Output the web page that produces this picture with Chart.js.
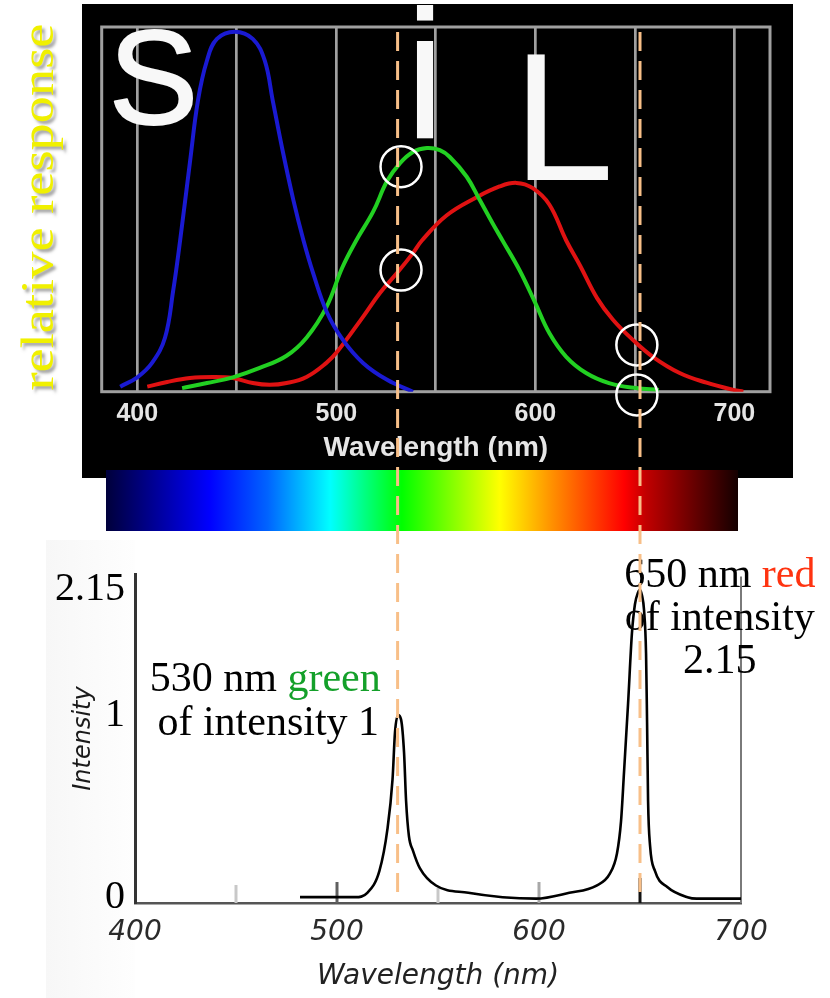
<!DOCTYPE html>
<html><head><meta charset="utf-8">
<script src="https://cdn.jsdelivr.net/npm/chart.js@4.4.1/dist/chart.umd.min.js"></script>
<style>
html,body{margin:0;padding:0;background:#fff;}
#wrap{position:relative;width:830px;height:998px;overflow:hidden;background:#fff;}
canvas{position:absolute;left:0;}
#top{top:0;width:830px;height:540px;}
#bot{top:540px;width:830px;height:458px;}
#ov{top:0;width:830px;height:998px;pointer-events:none;}
</style></head><body>
<div id="wrap">
<canvas id="top" width="830" height="540"></canvas>
<canvas id="bot" width="830" height="458"></canvas>
<canvas id="ov" width="830" height="998"></canvas>
</div>
<script>
// ---------- DATA ----------
// Top chart: cone relative responses (S, M, L)
const sConeWl = [391.4, 400, 407.4, 413.9, 418, 421.5, 426.5, 430.5, 435, 440, 449, 458, 464, 468, 473, 478.5, 483.5, 488.3, 495.3, 503.3, 513.4, 525.5, 538.5];
const sConeResp = [0.014, 0.04, 0.08, 0.15, 0.28, 0.42, 0.64, 0.81, 0.92, 0.98, 1.0, 0.98, 0.92, 0.81, 0.67, 0.53, 0.42, 0.33, 0.22, 0.144, 0.08, 0.033, 0.0];
const mConeWl = [422.5, 435, 448, 461.5, 475, 485, 495, 503, 510, 518.5, 525.5, 532, 538.5, 545.5, 552, 557, 565.5, 572, 578.5, 583.5, 592, 600, 607, 615.5, 625.5, 637, 650.5, 662];
const mConeResp = [0.01, 0.024, 0.04, 0.066, 0.10, 0.15, 0.235, 0.345, 0.42, 0.5, 0.585, 0.635, 0.666, 0.677, 0.671, 0.652, 0.597, 0.533, 0.468, 0.42, 0.338, 0.246, 0.163, 0.097, 0.052, 0.024, 0.01, 0.005];
const lConeWl = [405, 415, 426.5, 438, 448, 458, 466.5, 475, 485, 495, 500.3, 513.4, 522, 531, 538.5, 543, 555.5, 570.5, 582, 590.5, 598.5, 607, 615.5, 622.5, 631, 639, 649, 659, 672.5, 686, 699.5, 704.5];
const lConeResp = [0.014, 0.027, 0.038, 0.041, 0.038, 0.024, 0.019, 0.024, 0.041, 0.08, 0.11, 0.208, 0.275, 0.333, 0.385, 0.42, 0.49, 0.54, 0.57, 0.58, 0.566, 0.52, 0.42, 0.35, 0.26, 0.20, 0.144, 0.097, 0.052, 0.025, 0.005, 0.0];
const topGridWl = [400, 450, 500, 550, 600, 650, 700];
const topTickWl = [400, 500, 600, 700];
const topTickLabels = ['400', '500', '600', '700'];
const circleWl = [532.5, 532.5, 651, 651];
const circleResp = [0.625, 0.338, 0.13, -0.009];

// Bottom chart: emission spectrum
const specWl = [481.7, 500, 509, 515, 521, 525, 527.5, 528.7, 530.2, 531.7, 533.2, 534.2, 535.6, 537.6, 541, 549, 565, 582, 598.5, 615, 628.5, 635, 638.6, 640.6, 642.1, 644.1, 646, 647.5, 649, 650, 651, 652, 653, 653.5, 654, 655, 657.4, 663.5, 673.5, 678, 700];
const specIntensity = [0.04, 0.04, 0.04, 0.07, 0.22, 0.51, 0.85, 1.17, 1.29, 1.26, 1.03, 0.70, 0.46, 0.36, 0.24, 0.12, 0.07, 0.04, 0.03, 0.07, 0.12, 0.20, 0.34, 0.56, 0.90, 1.37, 1.85, 2.05, 2.13, 2.15, 2.11, 2.01, 1.71, 1.24, 0.70, 0.39, 0.22, 0.11, 0.04, 0.03, 0.03];
const botTickWl = [400, 500, 600, 700];
const botTickLabels = ['400', '500', '600', '700'];
const botMinorWl = [450, 500, 550, 600, 650];
const intensityTicks = [0.04, 1.29, 2.15];
const intensityLabels = ['0', '1', '2.15'];
const markerWl = [530, 650];

// ---------- STYLE ----------
const spectrumStops = [[0,'#00003a'],[0.164,'#0000ff'],[0.256,'#0064ff'],[0.355,'#00ffff'],[0.41,'#00ff80'],[0.468,'#00ff00'],[0.545,'#80ff00'],[0.623,'#ffff00'],[0.706,'#ff9000'],[0.82,'#ff0000'],[0.855,'#c00000'],[1,'#140000']];
const minorColors = ['#c8c8c8','#606060','#c8c8c8','#a8a8a8','#111111'];
const minorLens = [18, 21, 15, 21, 25];

const zip = (xs, ys) => xs.map((x, i) => ({x, y: ys[i]}));

const topDecor = {
  id: 'topDecor',
  beforeDraw(chart) {
    const ctx = chart.ctx;
    ctx.save();
    ctx.fillStyle = '#fff'; ctx.fillRect(0, 0, chart.width, chart.height);
    ctx.fillStyle = '#000'; ctx.fillRect(82, 4, 711, 474);
    const g = ctx.createLinearGradient(106, 0, 738, 0);
    spectrumStops.forEach(([p, c]) => g.addColorStop(p, c));
    ctx.fillStyle = g; ctx.fillRect(106, 470, 632, 61);
    const t = 'relative response';
    ctx.translate(41, 207); ctx.rotate(-Math.PI / 2);
    ctx.font = '47px "Liberation Serif"';
    const w = ctx.measureText(t).width;
    ctx.scale(367 / w, 1);
    ctx.textAlign = 'center'; ctx.textBaseline = 'middle';
    ctx.shadowColor = 'rgba(0,0,0,0.35)'; ctx.shadowBlur = 3; ctx.shadowOffsetX = 3; ctx.shadowOffsetY = 3;
    ctx.fillStyle = '#f0f000';
    ctx.fillText(t, 0, 0);
    ctx.restore();
  },
  beforeDatasetsDraw(chart) {
    const {ctx, chartArea: a} = chart;
    ctx.save();
    ctx.strokeStyle = '#a0a0a0'; ctx.lineWidth = 3;
    ctx.strokeRect(a.left, a.top, a.right - a.left, a.bottom - a.top);
    ctx.fillStyle = '#f8f8f8'; ctx.textAlign = 'left'; ctx.textBaseline = 'alphabetic';
    ctx.strokeStyle = '#f8f8f8'; ctx.lineWidth = 2; ctx.lineJoin = 'round';
    ctx.font = '134px "Liberation Sans"';
    ctx.fillText('S', a.left + 7, a.top + 97); ctx.strokeText('S', a.left + 7, a.top + 97);
    ctx.font = '183px "Liberation Sans"'; ctx.fillText('i', a.left + 303, a.top + 111);
    ctx.font = '182px "Liberation Sans"'; ctx.fillText('L', a.left + 411, a.top + 153);
    ctx.restore();
  },
  afterDatasetsDraw(chart) {
    const {ctx, scales: {x, y}} = chart;
    ctx.save();
    ctx.strokeStyle = '#ffffff'; ctx.lineWidth = 2.5;
    circleWl.forEach((wl, i) => {
      ctx.beginPath();
      ctx.arc(x.getPixelForValue(wl), y.getPixelForValue(circleResp[i]), 20.5, 0, Math.PI * 2);
      ctx.stroke();
    });
    ctx.restore();
  }
};

const topChart = new Chart(document.getElementById('top'), {
  type: 'line',
  data: { datasets: [
    {data: zip(sConeWl, sConeResp), borderColor: '#1a1ad2', borderWidth: 4, pointRadius: 0, tension: 0.4},
    {data: zip(mConeWl, mConeResp), borderColor: '#22d022', borderWidth: 4, pointRadius: 0, tension: 0.4},
    {data: zip(lConeWl, lConeResp), borderColor: '#e01212', borderWidth: 4, pointRadius: 0, tension: 0.4}
  ]},
  options: {
    responsive: false, animation: false, events: [],
    layout: {padding: {left: 101.7, right: 60, top: 27, bottom: 75}},
    plugins: {legend: {display: false}, tooltip: {enabled: false}},
    scales: {
      x: {
        type: 'linear', min: 382.1, max: 717.9,
        afterBuildTicks: s => { s.ticks = topGridWl.map(v => ({value: v})); },
        afterFit: s => { s.height = 73.3; },
        grid: {color: '#a0a0a0', lineWidth: 2.7, drawTicks: false},
        border: {display: false},
        ticks: {padding: 7, color: '#e6e6e6', autoSkip: false, maxRotation: 0,
          font: {family: 'Liberation Sans', size: 25, weight: 'bold'},
          callback: v => { const i = topTickWl.indexOf(v); return i >= 0 ? topTickLabels[i] : ''; }},
        title: {display: true, text: 'Wavelength (nm)', color: '#e6e6e6',
          font: {family: 'Liberation Sans', size: 28, weight: 'bold'}, padding: {top: 0, bottom: 0}}
      },
      y: {display: false, min: 0, max: 1.013}
    }
  },
  plugins: [topDecor]
});

const botDecor = {
  id: 'botDecor',
  beforeDraw(chart) {
    const ctx = chart.ctx;
    ctx.save();
    ctx.fillStyle = '#fff'; ctx.fillRect(0, 0, chart.width, chart.height);
    const g = ctx.createLinearGradient(46, 0, 135, 0);
    g.addColorStop(0, '#f7f7f7'); g.addColorStop(1, '#fefefe');
    ctx.fillStyle = g; ctx.fillRect(46, 0, 89, chart.height);
    ctx.restore();
  },
  beforeDatasetsDraw(chart) {
    const {ctx, scales: {x, y}} = chart;
    ctx.save();
    const base = y.getPixelForValue(0);
    ctx.lineWidth = 3;
    botMinorWl.forEach((wl, i) => {
      const px = x.getPixelForValue(wl);
      ctx.strokeStyle = minorColors[i];
      ctx.beginPath(); ctx.moveTo(px, base); ctx.lineTo(px, base - minorLens[i]); ctx.stroke();
    });
    ctx.strokeStyle = '#7a7a7a'; ctx.lineWidth = 2;
    const px7 = x.getPixelForValue(700);
    ctx.beginPath(); ctx.moveTo(px7, y.getPixelForValue(2.24)); ctx.lineTo(px7, base); ctx.stroke();
    ctx.restore();
  },
  afterDraw(chart) {
    const {ctx, scales: {x, y}} = chart;
    ctx.save();
    ctx.font = '42px "Liberation Serif"'; ctx.textBaseline = 'alphabetic'; ctx.textAlign = 'left';
    const line = (parts, cx, by) => {
      const tw = parts.reduce((s, p) => s + ctx.measureText(p[0]).width, 0);
      let xx = cx - tw / 2;
      parts.forEach(([t, c]) => { ctx.fillStyle = c; ctx.fillText(t, xx, by); xx += ctx.measureText(t).width; });
    };
    const gx = x.getPixelForValue(464.5), gy = y.getPixelForValue(1.454);
    line([['530 nm ', '#000'], ['green', '#14a02a']], gx, gy);
    line([['of intensity 1', '#000']], gx + 3, gy + 44);
    const rx = x.getPixelForValue(689.5), ry = y.getPixelForValue(2.17);
    line([['650 nm ', '#000'], ['red', '#ff3310']], rx, ry);
    line([['of intensity', '#000']], rx, ry + 43);
    line([['2.15', '#000']], rx, ry + 86);
    ctx.restore();
  }
};

const botChart = new Chart(document.getElementById('bot'), {
  type: 'line',
  data: { datasets: [
    {data: zip(specWl, specIntensity), borderColor: '#000', borderWidth: 2.6, pointRadius: 0, cubicInterpolationMode: 'monotone'}
  ]},
  options: {
    responsive: false, animation: false, events: [],
    layout: {padding: {left: 0, right: 89, top: 29, bottom: 0}},
    plugins: {legend: {display: false}, tooltip: {enabled: false}},
    scales: {
      x: {
        type: 'linear', min: 400, max: 700,
        afterBuildTicks: s => { s.ticks = botTickWl.map(v => ({value: v})); },
        afterFit: s => { s.height = 95; },
        grid: {display: false, drawTicks: false},
        border: {color: '#555', width: 2.5},
        ticks: {padding: 13, color: '#2a2a2a', autoSkip: false, maxRotation: 0,
          font: {family: 'DejaVu Sans', size: 28, style: 'italic'},
          callback: v => { const i = botTickWl.indexOf(v); return i >= 0 ? botTickLabels[i] : ''; }},
        title: {display: true, text: 'Wavelength (nm)', color: '#222',
          font: {family: 'DejaVu Sans', size: 28, style: 'italic'}, padding: {top: 0, bottom: 4}}
      },
      y: {
        min: 0, max: 2.258,
        afterBuildTicks: s => { s.ticks = intensityTicks.map(v => ({value: v})); },
        afterFit: s => { s.width = 135; },
        grid: {display: false, drawTicks: false},
        border: {color: '#333', width: 3},
        ticks: {padding: 10, color: '#000', font: {family: 'Liberation Serif', size: 40},
          callback: (v, i) => intensityLabels[i]},
        title: {display: true, text: 'Intensity', color: '#1a1a1a',
          font: {family: 'DejaVu Sans', size: 24, style: 'italic'}, padding: {top: 69, bottom: 0}}
      }
    }
  },
  plugins: [botDecor]
});

// dashed marker lines across both panels
const ov = document.getElementById('ov').getContext('2d');
ov.strokeStyle = '#f8bf88'; ov.lineWidth = 3; ov.setLineDash([19, 10]);
const yStart = topChart.chartArea.top + 5;
const yEnd = 540 + botChart.scales.y.getPixelForValue(0.05);
markerWl.forEach(wl => {
  const px = botChart.scales.x.getPixelForValue(wl);
  ov.beginPath(); ov.moveTo(px, yStart); ov.lineTo(px, yEnd); ov.stroke();
});
</script>
</body></html>
